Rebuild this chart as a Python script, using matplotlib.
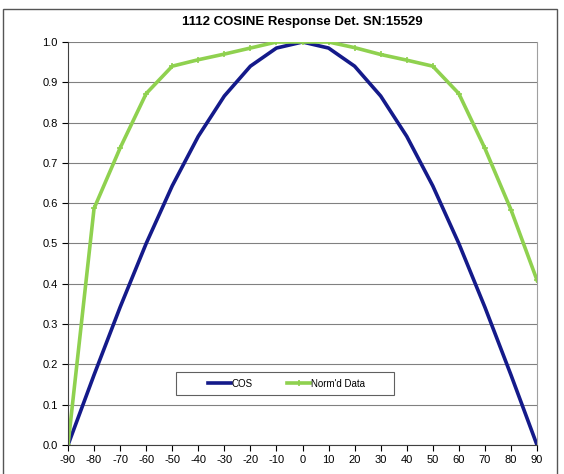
import matplotlib
matplotlib.use("Agg")
import matplotlib.pyplot as plt
from matplotlib.patches import Rectangle
import numpy as np

plt.rcParams['font.family'] = ['Liberation Sans', 'DejaVu Sans']
plt.rcParams['axes.unicode_minus'] = False

angles = [-90, -80, -70, -60, -50, -40, -30, -20, -10, 0, 10, 20, 30, 40, 50, 60, 70, 80, 90]
cos_vals = [0.0, 0.174, 0.342, 0.5, 0.643, 0.766, 0.866, 0.94, 0.985, 1.0,
            0.985, 0.94, 0.866, 0.766, 0.643, 0.5, 0.342, 0.174, 0.0]
normd = [0.0, 0.587, 0.737, 0.872, 0.94, 0.956, 0.97, 0.985, 1.0, 1.0,
         1.0, 0.986, 0.969, 0.955, 0.94, 0.872, 0.736, 0.584, 0.409]

fig = plt.figure(figsize=(5.64, 4.74), dpi=100)
ax = fig.add_axes([68/564, 29/474, 469/564, 403/474])

# outer chart border
fig.patches.append(Rectangle((3/564, -0.01), 554/564, 1 - 9/474 + 0.01,
                             transform=fig.transFigure, fill=False,
                             edgecolor='#555555', lw=1.0))

ax.plot(angles, cos_vals, color='#141A8A', lw=2.6, label='COS')
ax.plot(angles, normd, color='#8FD14F', lw=2.6, marker='+', ms=4, mew=1.2,
        label="Norm'd Data")

ax.set_xlim(-90, 90)
ax.set_ylim(0, 1.0)
ax.set_xticks(np.arange(-90, 91, 10))
ax.set_yticks(np.arange(0, 1.01, 0.1))
ax.set_yticklabels(['%.1f' % v for v in np.arange(0, 1.01, 0.1)])
ax.tick_params(labelsize=8, direction='out', length=4, width=0.8)
ax.yaxis.grid(True, color='#808080', lw=0.8)
ax.set_axisbelow(True)
ax.spines['top'].set_visible(False)
ax.spines['right'].set_color('#A0A0A0')
ax.spines['left'].set_color('#404040')
ax.spines['bottom'].set_color('#404040')

fig.text(0.5 * (68 + 537) / 564, 1 - 22/474, '1112 COSINE Response Det. SN:15529',
         ha='center', va='center', fontsize=9.5, fontweight='bold')

# legend box drawn separately (wider than the legend content, like Excel)
ax.add_patch(Rectangle((0.230, 0.124), 0.465, 0.057, transform=ax.transAxes,
                       facecolor='white', edgecolor='#606060', lw=0.8, zorder=4))
leg = ax.legend(loc='center', bbox_to_anchor=(0.466, 0.152), ncol=2, fontsize=7,
                frameon=False, handlelength=2.4, handletextpad=0.1,
                columnspacing=3.5, borderpad=0.3, borderaxespad=0)
leg.set_zorder(5)

fig.savefig('out.png', dpi=100)
